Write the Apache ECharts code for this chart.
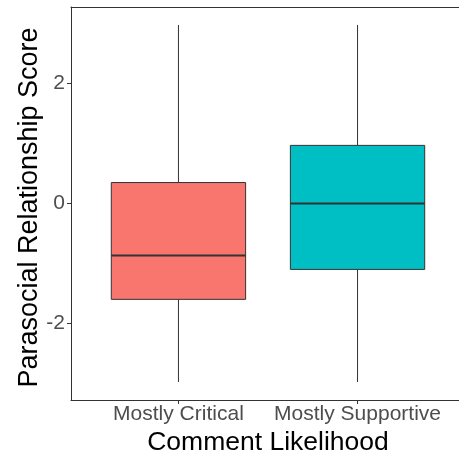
<!DOCTYPE html>
<html>
<head>
<meta charset="utf-8">
<script src="https://cdn.jsdelivr.net/npm/echarts@6/dist/echarts.min.js"></script>
<style>
html,body{margin:0;padding:0;background:#fff;}
#chart{width:459px;height:454px;}
</style>
</head>
<body>
<div id="chart"></div>
<script>
// Data
const categories = ['Mostly Critical', 'Mostly Supportive'];
const whiskerLow = [-2.98, -2.98];
const q1 = [-1.60, -1.10];
const medians = [-0.87, 0.00];
const q3 = [0.35, 0.97];
const whiskerHigh = [2.98, 2.98];
const fillColors = ['#F8766D', '#00BFC4'];
const yTicks = [-2, 0, 2];
const xPositions = [1, 2];

const FONT = 'Liberation Sans, Arial, sans-serif';
const seriesData = categories.map((c, i) => [xPositions[i], whiskerLow[i], q1[i], medians[i], q3[i], whiskerHigh[i], i]);
const lineCol = '#333333';

const chart = echarts.init(document.getElementById('chart'), null, {renderer: 'canvas'});
chart.setOption({
  animation: false,
  backgroundColor: '#ffffff',
  grid: {
    left: 71, top: 7, width: 394, bottom: 54,
    outerBoundsMode: 'none', containLabel: false, show: false
  },
  xAxis: [{
    type: 'value', min: 0.4, max: 2.6, position: 'bottom',
    name: 'Comment Likelihood', nameLocation: 'middle', nameGap: 29, nameMoveOverlap: false,
    nameTextStyle: {fontFamily: FONT, fontSize: 26.5, color: '#000000'},
    axisLine: {show: true, onZero: false, lineStyle: {color: lineCol, width: 1}},
    splitLine: {show: false},
    axisTick: {show: true, length: 4, customValues: xPositions, lineStyle: {color: lineCol}},
    axisLabel: {
      customValues: xPositions, margin: 4,
      fontFamily: FONT, fontSize: 21, color: '#4d4d4d',
      formatter: v => categories[Math.round(v) - 1] || ''
    }
  }, {
    type: 'value', min: 0.4, max: 2.6, position: 'top',
    axisLine: {show: true, onZero: false, lineStyle: {color: lineCol, width: 1}},
    splitLine: {show: false}, axisTick: {show: false}, axisLabel: {show: false}
  }],
  yAxis: {
    type: 'value', min: -3.28, max: 3.28,
    name: 'Parasocial Relationship Score', nameLocation: 'middle', nameGap: 28, nameMoveOverlap: false,
    nameTextStyle: {fontFamily: FONT, fontSize: 27, color: '#000000', padding: [0, 8, 0, 0]},
    axisLine: {show: true, onZero: false, lineStyle: {color: lineCol, width: 1}},
    splitLine: {show: false},
    axisTick: {show: true, length: 4, customValues: yTicks, lineStyle: {color: lineCol}},
    axisLabel: {
      customValues: yTicks, margin: 6,
      fontFamily: FONT, fontSize: 21, color: '#4d4d4d'
    }
  },
  series: [{
    type: 'custom',
    clip: false,
    data: seriesData,
    encode: {x: 0, y: [1, 5]},
    renderItem: function (params, api) {
      const x = api.value(0);
      const lo = api.value(1), a = api.value(2), m = api.value(3), b = api.value(4), hi = api.value(5);
      const idx = api.value(6);
      const half = 0.375;
      const pLo = api.coord([x, lo]);
      const pHi = api.coord([x, hi]);
      const pA = api.coord([x - half, a]);
      const pB = api.coord([x + half, b]);
      const pML = api.coord([x - half, m]);
      const pMR = api.coord([x + half, m]);
      return {
        type: 'group',
        children: [
          {type: 'line', shape: {x1: pHi[0], y1: pHi[1], x2: pHi[0], y2: pB[1]}, style: {stroke: lineCol, lineWidth: 1}},
          {type: 'line', shape: {x1: pLo[0], y1: pA[1], x2: pLo[0], y2: pLo[1]}, style: {stroke: lineCol, lineWidth: 1}},
          {type: 'rect', shape: {x: pA[0], y: pB[1], width: pB[0] - pA[0], height: pA[1] - pB[1]},
            style: {fill: fillColors[idx], stroke: lineCol, lineWidth: 1}},
          {type: 'line', shape: {x1: pML[0], y1: pML[1], x2: pMR[0], y2: pMR[1]}, style: {stroke: lineCol, lineWidth: 2}}
        ]
      };
    }
  }]
});
</script>
</body>
</html>
